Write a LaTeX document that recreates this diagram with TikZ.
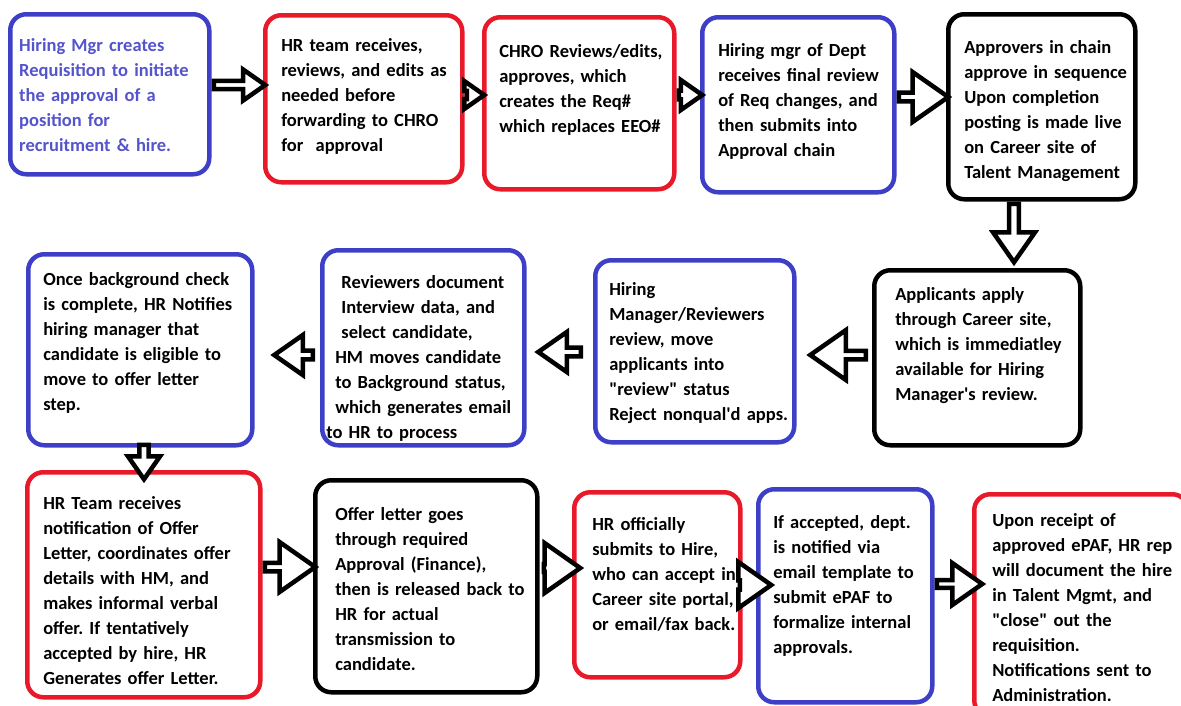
\documentclass[tikz,border=0pt]{standalone}
\usepackage{fontspec}
\setmainfont{Carlito}[Ligatures=TeXOff]
\usepackage{tikz}
\usetikzlibrary{calc,shapes.arrows}

\definecolor{boxblue}{rgb}{0.24, 0.25, 0.78}
\definecolor{boxred}{rgb}{0.91, 0.10, 0.16}
\definecolor{textblue}{rgb}{0.33, 0.33, 0.80}

% lines of a box, kept as they are typed
\newcommand{\boxlines}[1]{\begin{tabular}[t]{@{}l@{}}#1\end{tabular}}
\frenchspacing

\begin{document}
\begin{tikzpicture}[x=1pt, y=-1pt]
	% ------------------------------------------------------------------
	% STYLE DEFINITIONS
	% ------------------------------------------------------------------
	\tikzset{
		stage/.style      = {anchor=north west, rounded corners=16pt, line width=4.5pt,
		                     align=left, inner xsep=16pt, inner ysep=0pt, text height=37pt,
		                     font=\fontsize{18.5}{25}\selectfont\bfseries},
		stageblue/.style  = {stage, draw=boxblue},
		stagered/.style   = {stage, draw=boxred},
		stageblack/.style = {stage, draw=black},
		flow/.style 2 args = {to path={
			let \p1=(\tikztostart), \p2=(\tikztotarget),
			    \n1={veclen(\x2-\x1,\y2-\y1)}, \n2={atan2(\y2-\y1,\x2-\x1)} in
			(\p1) node[single arrow, draw=black, fill=white, line width=4.5pt, inner sep=0pt,
			           minimum height=\n1, minimum width=#1,
			           single arrow head extend=(#1-#2)/2, single arrow tip angle=70,
			           rotate=\n2, anchor=tail] {}
		}}
	}
	\clip (0,0) rectangle (1181,705);
	
	% ------------------------------------------------------------------
	% ROW 1
	% ------------------------------------------------------------------
	\node[stageblue, text=textblue, inner xsep=9pt, text width=181pt, text depth=123pt] (b1) at (8,12)
		{\boxlines{Hiring Mgr creates\\ Requisition to initiate\\ the approval of a\\ position for\\ recruitment \& hire.}};
	\node[stagered, text height=36pt, text width=165pt, text depth=131pt] (b2) at (263,13)
		{\boxlines{HR team receives,\\ reviews, and edits as\\ needed before\\ forwarding to CHRO\\ for\ \ approval}};
	\node[stagered, inner xsep=15pt, text height=40pt, text width=160pt, text depth=132pt] (b3) at (482,15)
		{\boxlines{CHRO Reviews/edits,\\ approves, which\\ creates the Req\#\\ which replaces EEO\#}};
	\node[stageblue, text height=39pt, text width=160pt, text depth=136pt] (b4) at (700,15)
		{\boxlines{Hiring mgr of Dept\\ receives final review\\ of Req changes, and\\ then submits into\\ Approval chain}};
	\node[stageblack, text height=39pt, text width=155pt, text depth=146pt] (b5) at (946,12)
		{\boxlines{Approvers in chain\\ approve in sequence\\ Upon completion\\ posting is made live\\ on Career site of\\ Talent Management}};
	
	% ------------------------------------------------------------------
	% ROW 2
	% ------------------------------------------------------------------
	\node[stageblack, inner xsep=21pt, text height=30pt, text width=164pt, text depth=145pt] (b6) at (872,268)
		{\boxlines{Applicants apply\\ through Career site,\\ which is immediatley\\ available for Hiring\\ Manager's review.}};
	\node[stageblue, inner xsep=14pt, text height=35pt, text width=171pt, text depth=147pt] (b7) at (593,258)
		{\boxlines{Hiring\\ Manager/Reviewers\\ review, move\\ applicants into\\ "review" status\\ Reject nonqual'd apps.}};
	\node[stageblue, inner xsep=13pt, text height=38pt, text width=176pt, text depth=157pt] (b8) at (320,248)
		{\boxlines{\ Reviewers document\\ \ Interview data, and\\ \ select candidate,\\ HM moves candidate\\ to Background status,\\ which generates email\\ \hspace{-9pt}to HR to process}};
	\node[stageblue, inner xsep=15pt, text height=31pt, text width=194pt, text depth=160pt] (b9) at (26,252)
		{\boxlines{Once background check\\ is complete, HR Notifies\\ hiring manager that\\ candidate is eligible to\\ move to offer letter\\ step.}};
	
	% ------------------------------------------------------------------
	% ROW 3
	% ------------------------------------------------------------------
	\node[stagered, text width=201pt, text depth=188pt] (b10) at (25,470)
		{\boxlines{HR Team receives\\ notification of Offer\\ Letter, coordinates offer\\ details with HM, and\\ makes informal verbal\\ offer. If tentatively\\ accepted by hire, HR\\ Generates offer Letter.}};
	\node[stageblack, inner xsep=20pt, text height=40pt, text width=182pt, text depth=172pt] (b11) at (313,478)
		{\boxlines{Offer letter goes\\ through required\\ Approval (Finance),\\ then is released back to\\ HR for actual\\ transmission to\\ candidate.}};
	\node[stagered, inner xsep=18pt, text height=38pt, text width=130pt, text depth=147pt] (b12) at (572,490)
		{\boxlines{HR officially\\ submits to Hire,\\ who can accept in\\ Career site portal,\\ or email/fax back.}};
	\node[stageblue, inner xsep=15pt, text height=39pt, text width=144pt, text depth=174pt] (b13) at (756,487)
		{\boxlines{If accepted, dept.\\ is notified via\\ email template to\\ submit ePAF to\\ formalize internal\\ approvals.}};
	\node[stagered, inner xsep=18pt, text height=32pt, text width=178pt, text depth=190pt] (b14) at (972,492)
		{\boxlines{Upon receipt of\\ approved ePAF, HR rep\\ will document the hire\\ in Talent Mgmt, and\\ "close" out the\\ requisition.\\ Notifications sent to\\ Administration.}};
	
	% ------------------------------------------------------------------
	% FLOW ARROWS
	% ------------------------------------------------------------------
	\path (b1.east |- 0,85) to[flow={31}{19}] (b2.west |- 0,85);
	\path (b2.east |- 0,95) to[flow={28}{17}] (b3.west |- 0,95);
	\path (b3.east |- 0,95) to[flow={30}{19}] (b4.west |- 0,95);
	\path (b4.east |- 0,97) to[flow={50}{29}] (b5.west |- 0,97);
	\path (b5.south -| 1014,0) to[flow={42}{27}] ($(b6.north -| 1014,0)+(0,-8)$);
	\path ($(b6.west |- 0,355)+(-4,0)$) to[flow={50}{28}] ($(b7.east |- 0,355)+(16,0)$);
	\path ($(b7.west |- 0,352)+(-10,0)$) to[flow={40}{24}] ($(b8.east |- 0,352)+(14,0)$);
	\path ($(b8.west |- 0,355)+(-5,0)$) to[flow={40}{24}] ($(b9.east |- 0,355)+(22,0)$);
	\path ($(b9.south -| 144,0)+(0,-5)$) to[flow={32}{21}] ($(b10.north -| 144,0)+(0,7)$);
	\path (b10.east |- 0,567) to[flow={50}{28}] (b11.west |- 0,567);
	\path ($(b11.east |- 0,568)+(2,0)$) to[flow={50}{26}] ($(b12.west |- 0,568)+(6,0)$);
	\path ($(b12.east |- 0,585)+(-5,0)$) to[flow={46}{28}] ($(b13.west |- 0,585)+(13,0)$);
	\path (b13.east |- 0,584) to[flow={42}{22}] ($(b14.west |- 0,584)+(8,0)$);
	
\end{tikzpicture}
\end{document}
